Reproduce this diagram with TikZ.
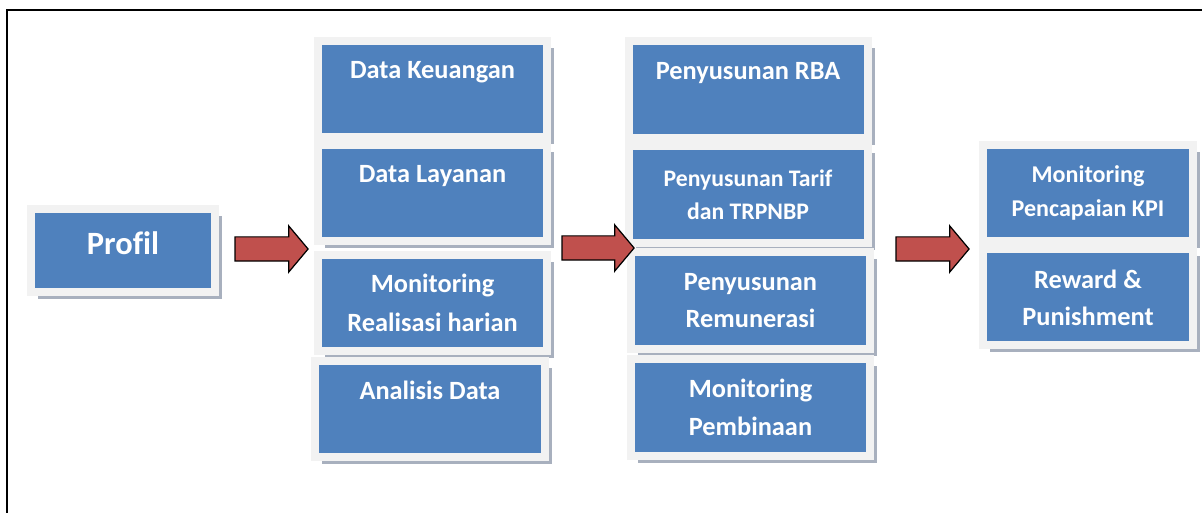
\documentclass[tikz,border=0pt]{standalone}
\usepackage{fontspec}
\setmainfont{Carlito}[Ligatures=NoCommon]
\usetikzlibrary{shapes.arrows, shadows}
\definecolor{boxblue}{RGB}{79,129,189}
\definecolor{boxgray}{RGB}{242,242,242}
\definecolor{shadowgray}{RGB}{168,176,190}
\definecolor{arrowred}{RGB}{192,80,77}
\tikzset{
    box/.style={rectangle, fill=boxblue, draw=boxgray, line width=0.16cm,
        text=white, inner sep=0pt, align=center,
        font=\fontsize{15}{21.5}\selectfont\bfseries,
        general shadow={draw=none, fill=shadowgray, shadow xshift=0.14cm, shadow yshift=-0.14cm}},
    midbox/.style={box, minimum width=4.58cm, minimum height=1.92cm},
    planbox/.style={box, minimum width=4.78cm, minimum height=1.94cm},
    kpibox/.style={box, minimum width=4.2cm, minimum height=1.92cm},
    bigarrow/.style={single arrow, draw=black, fill=arrowred, line width=0.7pt,
        minimum height=1.46cm, inner xsep=0pt, inner ysep=0.23cm,
        single arrow head extend=0.22cm, single arrow tip angle=100}
}
\begin{document}
\begin{tikzpicture}
    \useasboundingbox (0,0) rectangle (24.04,-10.26);
    \draw[line width=0.04cm] (0.14,-10.6) -- (0.14,-0.2) -- (24.4,-0.2);
    \node (profil) at (2.46,-5.01) [box, minimum width=3.68cm, minimum height=1.66cm,
        font=\fontsize{18.5}{22}\selectfont\bfseries, text depth=8pt] {Profil};
    \node (dataKeu) at (8.65,-1.78) [midbox] {Data Keuangan\\ \mbox{}};
    \node (dataLay) at (8.65,-3.86) [midbox] {Data Layanan\\ \mbox{}};
    \node (monReal) at (8.65,-6.06) [midbox, font=\fontsize{15}{22}\selectfont\bfseries] {Monitoring\\ Realisasi harian};
    \node (analisis) at (8.60,-8.18) [midbox, minimum width=4.6cm] {Analisis Data\\ \mbox{}};
    \node (rba) at (14.96,-1.79) [planbox] {Penyusunan RBA\\ \mbox{}};
    \node (tarif) at (14.96,-3.90) [planbox, font=\fontsize{13.5}{19}\selectfont\bfseries] {Penyusunan Tarif\\ dan TRPNBP};
    \node (remun) at (15.01,-6.01) [planbox] {Penyusunan\\ Remunerasi};
    \node (monBina) at (15.01,-8.15) [planbox] {Monitoring\\ Pembinaan};
    \node (monKpi) at (21.76,-3.86) [kpibox, font=\fontsize{13.7}{19.3}\selectfont\bfseries] {Monitoring\\ Pencapaian KPI};
    \node (reward) at (21.76,-5.95) [kpibox, font=\fontsize{15}{21}\selectfont\bfseries] {Reward \&\\ Punishment};
    \node (arrA) at (5.33,-4.98) [bigarrow] {};
    \node (arrB) at (11.86,-4.96) [bigarrow, minimum height=1.44cm] {};
    \node (arrC) at (18.55,-4.98) [bigarrow] {};
\end{tikzpicture}
\end{document}
